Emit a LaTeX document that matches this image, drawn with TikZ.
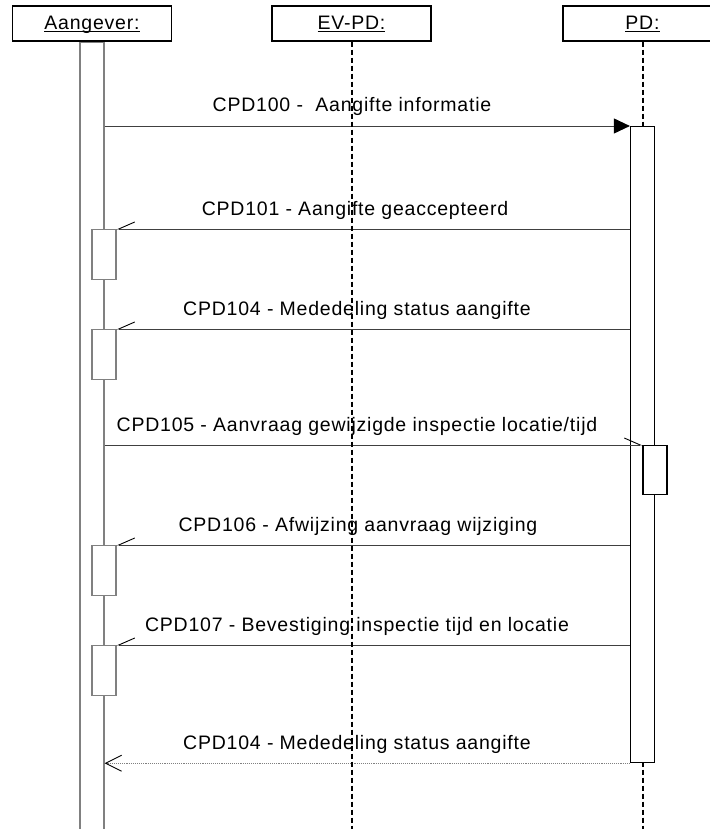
\documentclass[tikz,border=0pt]{standalone}
\usepackage{fontspec}
\setmainfont{Liberation Sans}[LetterSpace=4]
\usetikzlibrary{arrows.meta, positioning}

\begin{document}
\begin{tikzpicture}[
    x=1pt, y=-1pt,
    font=\fontsize{19.5}{23}\selectfont,
    head/.style={draw, line width=1.3pt, minimum width=159pt, minimum height=35pt, text height=15pt, text depth=2pt, inner sep=0pt},
    lifeline/.style={line width=2pt, dash pattern=on 5pt off 3pt},
    actbar/.style={draw, fill=white, line width=1.2pt, minimum width=24pt, inner sep=0pt, anchor=north},
    msg/.style={draw=black!75, line width=0.9pt},
    reply/.style={msg, -{Straight Barb[harpoon, swap, length=16pt, width=14pt, black]}},
    msglabel/.style={anchor=base},
]

\useasboundingbox (0,0) rectangle (709,829);

\node[head] (aangever) at (92,23.5) {\underline{\smash{Aangever:}}};
\node[head] (evpd) at (351.5,23.5) {\underline{\smash{EV-PD:}}};
\node[head] (pd) at (642.5,23.5) {\underline{\smash{PD:}}};

\coordinate (bottom) at (0,829);
\draw[lifeline] (pd.south) -- (pd.south |- bottom);

\node[actbar, draw=gray, minimum height=800pt] (abar) at (aangever.south) {};
\node[actbar, minimum height=636pt] (pdact) at (642.5,126) {};
\node[actbar, minimum height=49pt] (pdact2) at (655,445) {};

\node[actbar, draw=gray, minimum height=50pt] (ack1) at (104,229) {};
\node[actbar, draw=gray, minimum height=50pt] (ack2) at (104,329) {};
\node[actbar, draw=gray, minimum height=50pt] (ack3) at (104,545) {};
\node[actbar, draw=gray, minimum height=50pt] (ack4) at (104,645) {};

\node[msglabel] (m1) at (352,112) {CPD100 - \ Aangifte informatie};
\node[msglabel] (m2) at (355,215) {CPD101 - Aangifte geaccepteerd};
\node[msglabel] (m3) at (357,315) {CPD104 - Mededeling status aangifte};
\node[msglabel] (m4) at (357,431) {CPD105 - Aanvraag gewijzigde inspectie locatie/tijd};
\node[msglabel] (m5) at (358,531) {CPD106 - Afwijzing aanvraag wijziging};
\node[msglabel] (m6) at (357,631) {CPD107 - Bevestiging inspectie tijd en locatie};
\node[msglabel] (m7) at (357,749) {CPD104 - Mededeling status aangifte};

\draw[msg, -{Triangle[length=16pt, width=15pt, black]}] (abar.east |- pdact.north) -- (pdact.north west);
\draw[reply] (pdact.west |- ack1.north) -- (ack1.north east);
\draw[reply] (pdact.west |- ack2.north) -- (ack2.north east);
\draw[msg, -{Straight Barb[harpoon, length=16pt, width=14pt, black]}] (abar.east |- pdact2.north) -- (pdact2.north west);
\draw[reply] (pdact.west |- ack3.north) -- (ack3.north east);
\draw[reply] (pdact.west |- ack4.north) -- (ack4.north east);
\draw[msg, draw=gray, densely dotted, -{Straight Barb[length=16pt, width=16pt, black]}] (pdact.south west) -- (abar.east |- pdact.south);

\draw[lifeline] (evpd.south) -- (evpd.south |- bottom);

\end{tikzpicture}
\end{document}
